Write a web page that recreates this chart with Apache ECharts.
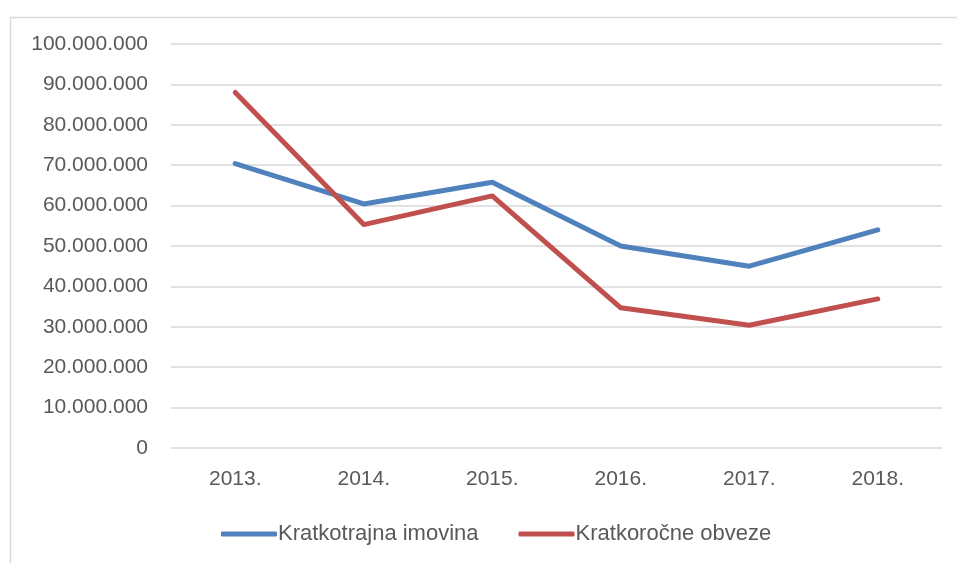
<!DOCTYPE html>
<html>
<head>
<meta charset="utf-8">
<script src="https://cdn.jsdelivr.net/npm/echarts@6/dist/echarts.min.js"></script>
<style>html,body{margin:0;padding:0;background:#fff;}#c{width:957px;height:563px;}</style>
</head>
<body>
<div id="c"></div>
<script>
var categories = ['2013.', '2014.', '2015.', '2016.', '2017.', '2018.'];
var seriesNames = ['Kratkotrajna imovina', 'Kratkoročne obveze'];
var kratkotrajnaImovina = [70400000, 60400000, 65800000, 50000000, 45000000, 54000000];
var kratkorocneObveze = [88000000, 55300000, 62400000, 34700000, 30400000, 36900000];
var yMin = 0, yMax = 100000000, yStep = 10000000;

function fmt(v) { return String(v).replace(/\B(?=(\d{3})+(?!\d))/g, '.'); }

var chart = echarts.init(document.getElementById('c'), null, {renderer: 'canvas'});
var font = 'Liberation Sans, Arial, sans-serif';
chart.setOption({
  animation: false,
  backgroundColor: '#ffffff',
  graphic: [{
    type: 'rect', left: 8, top: 15,
    shape: {width: 970, height: 570},
    style: {fill: 'none', stroke: '#d9d9d9', lineWidth: 1.5},
    silent: true
  }],
  grid: {left: 171, right: 15, top: 44, bottom: 115, containLabel: false},
  legend: {
    data: seriesNames,
    left: 216, top: 518,
    itemWidth: 56, itemHeight: 5, itemGap: 40,
    icon: 'roundRect',
    textStyle: {color: '#595959', fontSize: 22, fontFamily: font, padding: [0, 0, 0, -4]}
  },
  xAxis: {
    type: 'category', data: categories, boundaryGap: true,
    axisLine: {show: false}, axisTick: {show: false},
    axisLabel: {color: '#595959', fontSize: 21, fontFamily: font, margin: 21}
  },
  yAxis: {
    type: 'value', min: yMin, max: yMax, interval: yStep,
    axisLine: {show: false}, axisTick: {show: false},
    axisLabel: {color: '#595959', fontSize: 21, fontFamily: font, margin: 23, formatter: fmt},
    splitLine: {lineStyle: {color: '#d9d9d9', width: 1.5}}
  },
  series: [
    {name: seriesNames[0], type: 'line', data: kratkotrajnaImovina, symbol: 'none',
     itemStyle: {color: '#4F81BD'}, lineStyle: {color: '#4F81BD', width: 5, cap: 'round', join: 'round'}},
    {name: seriesNames[1], type: 'line', data: kratkorocneObveze, symbol: 'none',
     itemStyle: {color: '#C0504D'}, lineStyle: {color: '#C0504D', width: 5, cap: 'round', join: 'round'}}
  ]
});
</script>
</body>
</html>
